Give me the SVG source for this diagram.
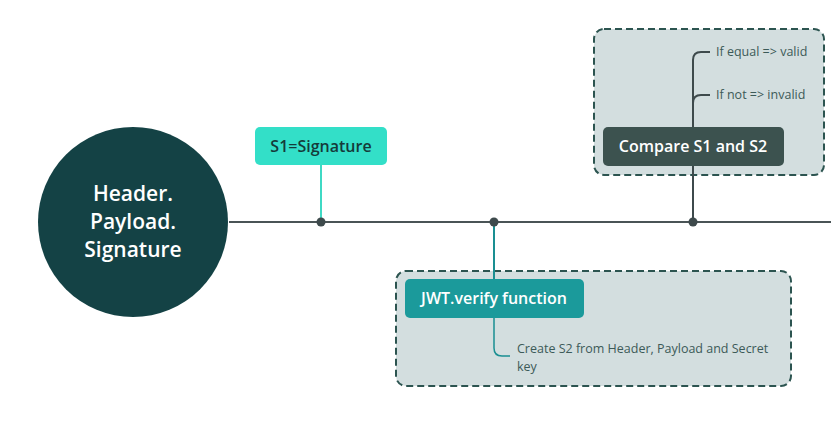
<svg xmlns="http://www.w3.org/2000/svg" width="831" height="426" viewBox="0 0 831 426">
<style>
text{font-family:"Open Sans","Noto Sans",sans-serif}
.grp{fill:#d3dedf;stroke:#2c5450;stroke-width:2;stroke-dasharray:7 4}
.lbl{font-size:16px;font-weight:600}
.sm{font-size:12.5px;fill:#3c5a58}
.dot{fill:#3e4a4c}
</style>
<rect width="831" height="426" fill="#ffffff"/>
<g id="group-compare"><rect class="grp" x="594" y="29" width="230" height="146" rx="10"/></g>
<g id="group-verify"><rect class="grp" x="396" y="271" width="395" height="115" rx="10"/></g>
<g id="connectors" fill="none">
<line x1="229" y1="222" x2="831" y2="222" stroke="#4a5456" stroke-width="2"/>
<line x1="321" y1="165" x2="321" y2="222" stroke="#3fd9c4" stroke-width="2"/>
<line x1="494" y1="222" x2="494" y2="279" stroke="#1a8f92" stroke-width="2"/>
<path d="M494 318 V348 Q494 356 502 356 H510" stroke="#1a8f92" stroke-width="1.5"/>
<line x1="693" y1="166" x2="693" y2="222" stroke="#3e4a4c" stroke-width="2"/>
<path d="M693 127 V60 Q693 52 701 52 H710" stroke="#3e4a4c" stroke-width="2"/>
<path d="M693 103 Q693 95 701 95 H710" stroke="#3e4a4c" stroke-width="2"/>
<circle class="dot" cx="321" cy="222" r="4.5"/>
<circle class="dot" cx="494" cy="222" r="4.5"/>
<circle class="dot" cx="693" cy="222" r="4.5"/>
</g>
<g id="node-jwt">
<circle cx="133" cy="222" r="95" fill="#144245"/>
<text x="133" y="201" font-size="21" font-weight="600" fill="#ffffff" text-anchor="middle">Header.</text>
<text x="133" y="229" font-size="21" font-weight="600" fill="#ffffff" text-anchor="middle">Payload.</text>
<text x="133" y="257" font-size="21" font-weight="600" fill="#ffffff" text-anchor="middle">Signature</text>
</g>
<g id="node-s1">
<rect x="255" y="127" width="132" height="38" rx="5" fill="#33dfc8"/>
<text class="lbl" x="321" y="152" fill="#153b3a" text-anchor="middle">S1=Signature</text>
</g>
<g id="node-compare">
<rect x="603" y="127" width="181" height="39" rx="5" fill="#3c524f"/>
<text class="lbl" x="693" y="152" fill="#ffffff" text-anchor="middle">Compare S1 and S2</text>
</g>
<g id="node-equal"><text class="sm" x="716" y="56">If equal =&gt; valid</text></g>
<g id="node-not"><text class="sm" x="716" y="99">If not =&gt; invalid</text></g>
<g id="node-verify">
<rect x="405" y="279" width="179" height="39" rx="5" fill="#1b9a9b"/>
<text class="lbl" x="494" y="304" fill="#ffffff" text-anchor="middle">JWT.verify function</text>
</g>
<g id="node-create">
<text class="sm" x="517" y="353" font-size="12.5">Create S2 from Header, Payload and Secret</text>
<text class="sm" x="517" y="370.5" font-size="12.5">key</text>
</g>
</svg>
